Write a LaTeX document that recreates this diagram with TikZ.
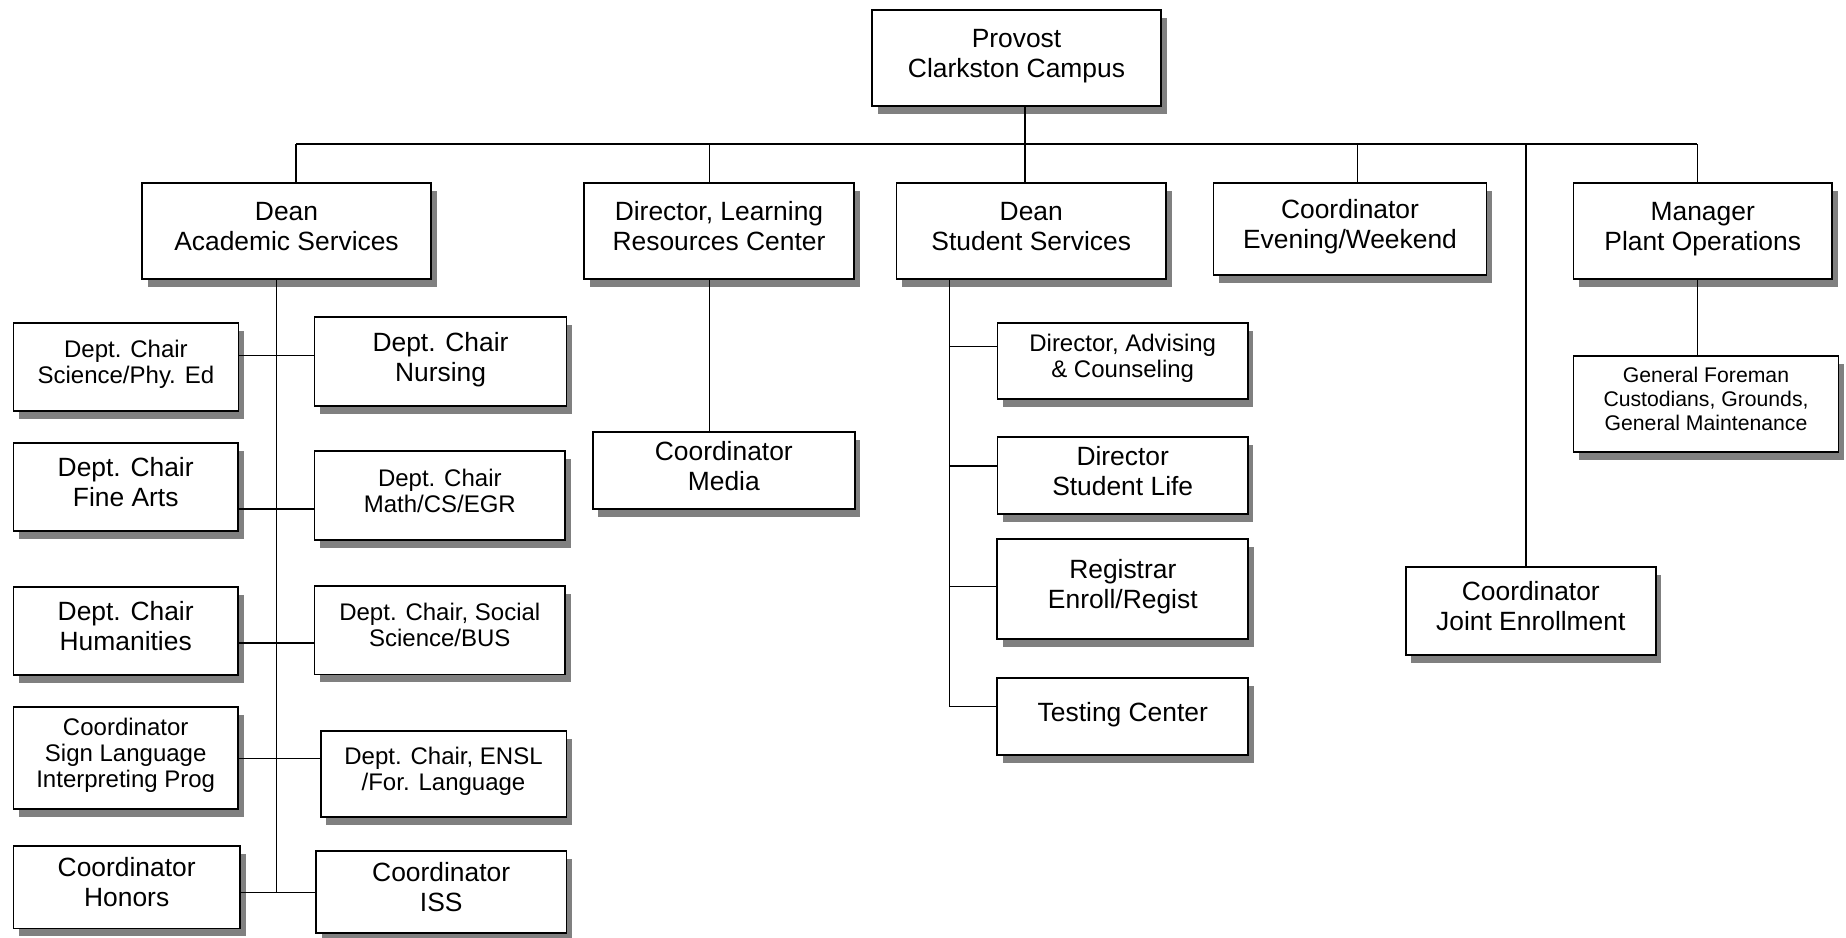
\documentclass[tikz,border=0pt]{standalone}
\usepackage{fontspec}
\setmainfont{Liberation Sans}
\usetikzlibrary{shadows}
\newcommand\szL{\fontsize{13.2}{15}\selectfont}
\newcommand\szS{\fontsize{12}{13}\selectfont}
\newcommand\szT{\fontsize{10.6}{11.85}\selectfont}
\definecolor{shadowgray}{RGB}{128,128,128}
\tikzset{
  box/.style={draw, line width=0.85pt, fill=white, align=center, inner sep=0pt,
    text depth=5pt, font=\szL,
    drop shadow={shadow xshift=2.75pt, shadow yshift=-4pt, opacity=1, fill=shadowgray}},
  smalltxt/.style={font=\szS},
  tinytxt/.style={font=\szT},
  sz/.style 2 args={minimum width=#1*0.5pt, minimum height=#2*0.5pt},
  conn/.style={line width=0.75pt}
}
\begin{document}
\begin{tikzpicture}[x=0.5pt, y=-0.5pt]
\useasboundingbox (0,0) rectangle (1846,937);
% top
\node[box, sz={289}{96}] (provost) at (1016.5,58) {Provost\\ Clarkston Campus};
% second level
\node[box, sz={289}{96}] (deanAS) at (286.5,231) {Dean\\ Academic Services};
\node[box, sz={270}{96}] (lrc) at (719,231) {Director, Learning\\ Resources Center};
\node[box, sz={269.5}{96}] (deanSS) at (1031.25,231) {Dean\\ Student Services};
\node[box, sz={273}{92}] (evening) at (1350,229) {Coordinator\\ Evening/Weekend};
\node[box, sz={258.6}{96}] (plant) at (1702.7,231) {Manager\\ Plant Operations};
% right side
\node[box, tinytxt, sz={265}{96}] (foreman) at (1706,403.7) {General Foreman\\ Custodians, Grounds,\\ General Maintenance};
\node[box, sz={250}{88}] (joint) at (1530.8,610.8) {Coordinator\\ Joint Enrollment};
\node[box, sz={262}{77}] (media) at (723.8,470.8) {Coordinator\\ Media};
% student services
\node[box, smalltxt, sz={250.5}{76.6}] (advising) at (1122.7,361) {Director, Advising\\ \& Counseling};
\node[box, sz={250.5}{77}] (stulife) at (1122.7,475.8) {Director\\ Student Life};
\node[box, sz={251}{100}] (registrar) at (1122.8,588.8) {Registrar\\ Enroll/Regist};
\node[box, sz={251}{77}] (testing) at (1122.8,716.5) {Testing Center};
% academic services
\node[box, smalltxt, sz={225}{88}] (sci) at (125.9,366.7) {Dept. Chair\\ Science/Phy. Ed};
\node[box, sz={251.8}{89}] (nursing) at (440.5,361.5) {Dept. Chair\\ Nursing};
\node[box, sz={224.6}{88.3}] (finearts) at (125.7,486.8) {Dept. Chair\\ Fine Arts};
\node[box, smalltxt, sz={250.4}{89}] (math) at (439.8,495.5) {Dept. Chair\\ Math/CS/EGR};
\node[box, sz={224.6}{88.3}] (human) at (125.7,630.8) {Dept. Chair\\ Humanities};
\node[box, smalltxt, sz={250.4}{88.3}] (social) at (439.8,630.2) {Dept. Chair, Social\\ Science/BUS};
\node[box, smalltxt, sz={224.6}{102}] (sign) at (125.7,757.7) {Coordinator\\ Sign Language\\ Interpreting Prog};
\node[box, smalltxt, sz={245.7}{86.6}] (ensl) at (443.5,774) {Dept. Chair, ENSL\\ /For. Language};
\node[box, sz={226.6}{82.3}] (honors) at (126.7,887.2) {Coordinator\\ Honors};
\node[box, sz={250.4}{82.6}] (iss) at (441.2,892) {Coordinator\\ ISS};
% bus coordinates
\coordinate (b1) at (296,144);
\coordinate (b2) at (709.7,144);
\coordinate (b3) at (1025,144);
\coordinate (b4) at (1357.6,144);
\coordinate (b5) at (1525.8,144);
\coordinate (b6) at (1697.4,144);
\draw[conn] (b1) -- (b6);
\draw[conn] (b3 |- provost.south) -- (b3 |- deanSS.north);
\draw[conn] (b1) -- (b1 |- deanAS.north);
\draw[conn] (b2) -- (b2 |- lrc.north);
\draw[conn] (b4) -- (b4 |- evening.north);
\draw[conn] (b5) -- (b5 |- joint.north);
\draw[conn] (b6) -- (b6 |- plant.north);
\draw[conn] (b2 |- lrc.south) -- (b2 |- media.north);
\draw[conn] (b6 |- plant.south) -- (b6 |- foreman.north);
% academic services trunk
\coordinate (ta) at (276.3,892.7);
\coordinate (ya1) at (0,355.7);
\coordinate (ya2) at (0,509);
\coordinate (ya3) at (0,643);
\coordinate (ya4) at (0,758.3);
\draw[conn] (ta |- deanAS.south) -- (ta);
\draw[conn] (sci.east |- ya1) -- (nursing.west |- ya1);
\draw[conn] (finearts.east |- ya2) -- (math.west |- ya2);
\draw[conn] (human.east |- ya3) -- (social.west |- ya3);
\draw[conn] (sign.east |- ya4) -- (ensl.west |- ya4);
\draw[conn] (honors.east |- ta) -- (iss.west |- ta);
% student services trunk
\coordinate (ts) at (949.5,706.7);
\coordinate (ys1) at (0,346.7);
\coordinate (ys2) at (0,466);
\coordinate (ys3) at (0,586.7);
\draw[conn] (ts |- deanSS.south) -- (ts);
\draw[conn] (ts |- ys1) -- (advising.west |- ys1);
\draw[conn] (ts |- ys2) -- (stulife.west |- ys2);
\draw[conn] (ts |- ys3) -- (registrar.west |- ys3);
\draw[conn] (ts) -- (testing.west |- ts);
\end{tikzpicture}
\end{document}
